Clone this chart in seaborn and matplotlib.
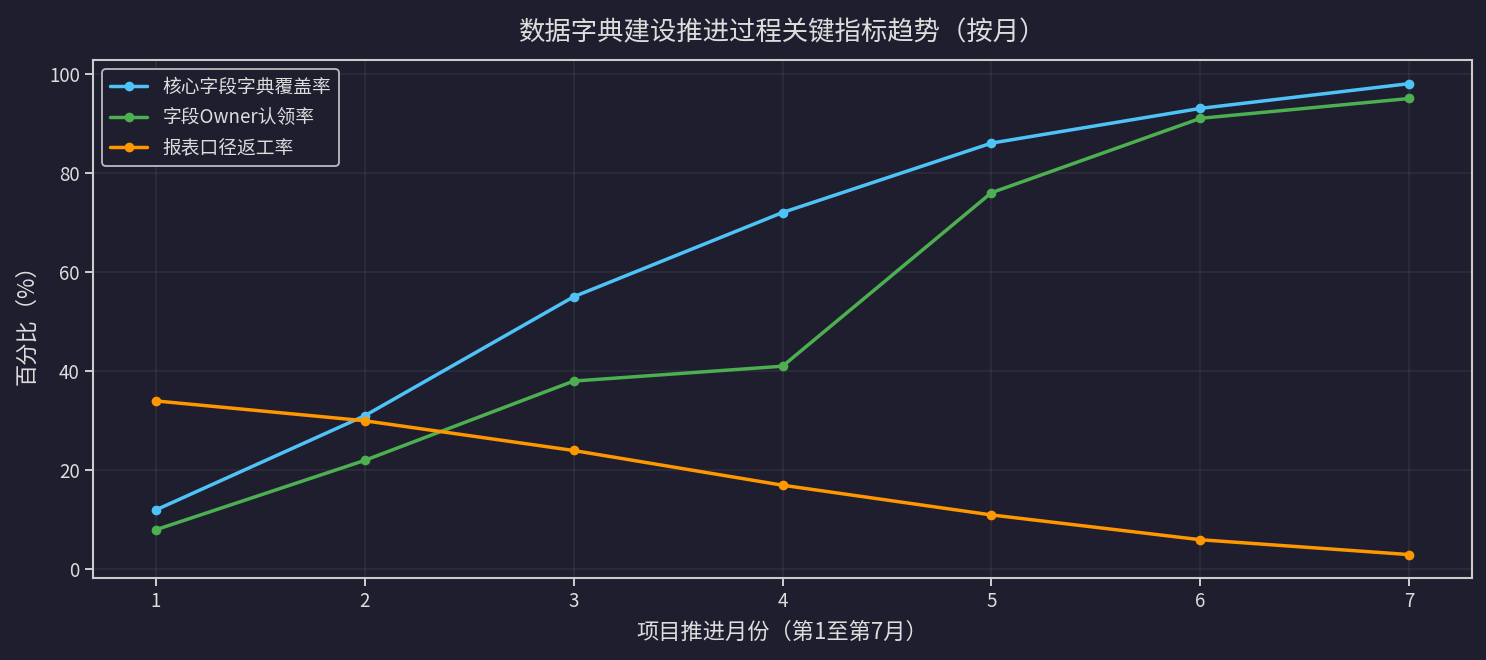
import matplotlib
matplotlib.use("Agg")
import matplotlib.pyplot as plt
import seaborn as sns
import pandas as pd

# 数据
months = [1, 2, 3, 4, 5, 6, 7]
coverage = [12, 31, 55, 72, 86, 93, 98]
owner_claim = [8, 22, 38, 41, 76, 91, 95]
rework = [34, 30, 24, 17, 11, 6, 3]
series_names = ["核心字段字典覆盖率", "字段Owner认领率", "报表口径返工率"]
colors = ["#4FC3F7", "#4CAF50", "#FF9800"]

bg = "#1e1e2e"
fg = "#dddddd"

sns.set_theme(style="dark")
plt.rcParams['font.family'] = ['Noto Sans CJK SC', 'DejaVu Sans']
plt.rcParams['axes.unicode_minus'] = False

df = pd.DataFrame({
    "月份": months * 3,
    "值": coverage + owner_claim + rework,
    "指标": [series_names[0]] * 7 + [series_names[1]] * 7 + [series_names[2]] * 7,
})

fig, ax = plt.subplots(figsize=(14.86, 6.6), dpi=100)
fig.patch.set_facecolor(bg)
ax.set_facecolor(bg)

sns.lineplot(data=df, x="月份", y="值", hue="指标", palette=colors,
             marker="o", markersize=7, markeredgewidth=0, linewidth=2.5, ax=ax)

ax.set_title("数据字典建设推进过程关键指标趋势（按月）", color=fg, fontsize=19, pad=14)
ax.set_xlabel("项目推进月份（第1至第7月）", color=fg, fontsize=16, labelpad=6)
ax.set_ylabel("百分比（%）", color=fg, fontsize=16, labelpad=8)
ax.set_xticks(months)
ax.tick_params(colors=fg, labelsize=13.5, length=6, width=1.3, bottom=True, left=True)
for s in ax.spines.values():
    s.set_color("#cccccc")
    s.set_linewidth(1.5)
ax.grid(True, color="#ffffff", alpha=0.06, linewidth=1.2)

leg = ax.legend(loc="upper left", fontsize=13.5, facecolor=bg, edgecolor="#bbbbbb",
                framealpha=1, labelcolor=fg, borderaxespad=0.5)
leg.get_frame().set_linewidth(1.3)

fig.subplots_adjust(left=0.0626, right=0.9906, top=0.909, bottom=0.124)
fig.savefig("out.png", dpi=100, facecolor=bg)
